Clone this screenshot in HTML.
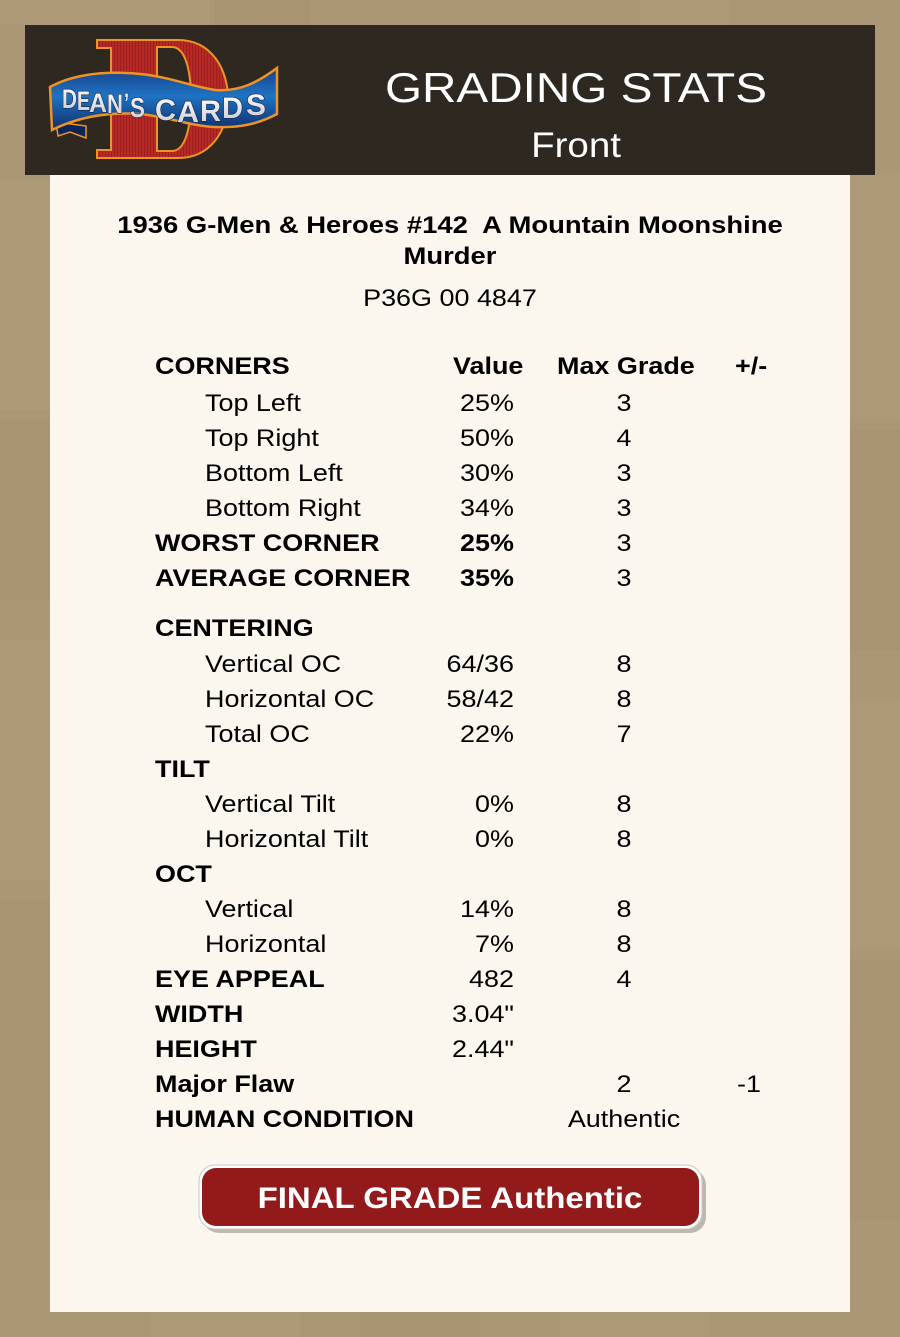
<!DOCTYPE html>
<html>
<head>
<meta charset="utf-8">
<style>
html,body{margin:0;padding:0;}
body{width:900px;height:1337px;overflow:hidden;background:#aa9775;}
svg{display:block;}
text{font-family:"Liberation Sans",Arial,sans-serif;}
.b{font-weight:bold;}
.t{font-size:24.5px;fill:#000;}
</style>
</head>
<body>
<svg width="900" height="1337" viewBox="0 0 900 1337" xmlns="http://www.w3.org/2000/svg">
  <defs>
    <pattern id="stripes" width="3" height="10" patternUnits="userSpaceOnUse">
      <rect width="3" height="10" fill="#b52a27"/>
      <rect width="1" height="10" fill="#9c1f1e"/>
    </pattern>
    <linearGradient id="blue" x1="0" y1="0" x2="0" y2="1">
      <stop offset="0" stop-color="#173f86"/>
      <stop offset="0.45" stop-color="#1f73c4"/>
      <stop offset="1" stop-color="#0f2f6e"/>
    </linearGradient>
    <linearGradient id="txt" x1="0" y1="0" x2="0" y2="1">
      <stop offset="0" stop-color="#ffffff"/>
      <stop offset="1" stop-color="#c9c9cf"/>
    </linearGradient>
  </defs>

  <!-- background texture -->
  <rect x="0" y="0" width="900" height="1337" fill="#aa9775"/>
  <g opacity="0.2">
    <rect x="0" y="0" width="210" height="25" fill="#b8a788"/>
    <rect x="215" y="0" width="95" height="25" fill="#9f8b69"/>
    <rect x="640" y="0" width="90" height="25" fill="#b5a484"/>
    <rect x="0" y="180" width="50" height="230" fill="#b9a98a"/>
    <rect x="0" y="420" width="50" height="180" fill="#9f8b6a"/>
    <rect x="0" y="640" width="50" height="240" fill="#b6a585"/>
    <rect x="0" y="900" width="50" height="300" fill="#a08c6b"/>
    <rect x="850" y="170" width="50" height="250" fill="#b6a586"/>
    <rect x="850" y="430" width="50" height="220" fill="#a18d6c"/>
    <rect x="850" y="700" width="50" height="250" fill="#b5a383"/>
    <rect x="850" y="960" width="50" height="260" fill="#a08c6b"/>
    <rect x="150" y="1312" width="150" height="25" fill="#b7a687"/>
    <rect x="360" y="1312" width="120" height="25" fill="#a08c6b"/>
    <rect x="560" y="1312" width="150" height="25" fill="#b7a687"/>
  </g>

  <!-- header -->
  <rect x="25" y="25" width="850" height="150" fill="#2e2820"/>

  <!-- white panel -->
  <rect x="50" y="175" width="800" height="1137" fill="#fcf7ee"/>

  <!-- logo: D -->
  <path d="M97,40 H178 C212,40 228,70 228,99 C228,132 210,158 178,158 H97 V150 H111 V48 H97 Z M157,47 V151 H172 C186,151 191,125 191,99 C191,73 186,47 172,47 Z"
        fill="url(#stripes)" fill-rule="evenodd" stroke="#ee9425" stroke-width="2"/>
  <!-- banner tail -->
  <path d="M56,122 L86,126 L86,138 L70,132 L58,136 Z" fill="#0c2559" stroke="#ee9425" stroke-width="1.5"/>
  <!-- banner -->
  <path d="M50,87 C70,76 100,70 140,74 C170,77 190,86 215,90 C240,92 258,82 277,68 L277,114 C258,124 240,128 215,127 C190,126 165,116 140,114 C110,112 80,116 52,130 Z"
        fill="url(#blue)" stroke="#ee9425" stroke-width="2.5"/>
  <g font-weight="bold" fill="url(#txt)" stroke="#16264a" stroke-width="1.2" paint-order="stroke" lengthAdjust="spacingAndGlyphs">
    <text font-size="27" x="62" y="108" textLength="15" lengthAdjust="spacingAndGlyphs">D</text>
    <text font-size="27" x="77" y="110" textLength="13" lengthAdjust="spacingAndGlyphs">E</text>
    <text font-size="27" x="89" y="112" textLength="18" lengthAdjust="spacingAndGlyphs">A</text>
    <text font-size="27" x="107" y="113" textLength="16" lengthAdjust="spacingAndGlyphs">N</text>
    <text font-size="27" x="124" y="112" textLength="5" lengthAdjust="spacingAndGlyphs">’</text>
    <text font-size="28" x="130" y="117" textLength="15" lengthAdjust="spacingAndGlyphs">S</text>
    <text font-size="30" x="155" y="120" textLength="21" lengthAdjust="spacingAndGlyphs">C</text>
    <text font-size="30" x="177" y="122" textLength="22" lengthAdjust="spacingAndGlyphs">A</text>
    <text font-size="30" x="200" y="121" textLength="21" lengthAdjust="spacingAndGlyphs">R</text>
    <text font-size="30" x="222" y="118" textLength="21" lengthAdjust="spacingAndGlyphs">D</text>
    <text font-size="30" x="246" y="115" textLength="20" lengthAdjust="spacingAndGlyphs">S</text>
  </g>

  <!-- header text -->
  <text transform="translate(576,102) scale(1.135,1)" text-anchor="middle" font-size="42" fill="#ffffff">GRADING STATS</text>
  <text transform="translate(576,157) scale(1.1,1)" text-anchor="middle" font-size="35" fill="#ffffff">Front</text>

  <!-- title -->
  <text class="t b" transform="translate(450,233) scale(1.12,1)" text-anchor="middle">1936 G-Men &amp; Heroes #142&#160; A Mountain Moonshine</text>
  <text class="t b" transform="translate(450,264) scale(1.12,1)" text-anchor="middle">Murder</text>
  <text class="t" transform="translate(450,306) scale(1.1,1)" text-anchor="middle">P36G 00 4847</text>

  <!-- column headers -->
  <text class="t b" transform="translate(155,374) scale(1.1,1)">CORNERS</text>
  <text class="t b" transform="translate(453,374) scale(1.1,1)">Value</text>
  <text class="t b" transform="translate(557,374) scale(1.1,1)">Max Grade</text>
  <text class="t b" transform="translate(735,374) scale(1.1,1)">+/-</text>

  <!-- labels -->
  <g>
    <text class="t" transform="translate(205,411) scale(1.1,1)">Top Left</text>
    <text class="t" transform="translate(205,446) scale(1.1,1)">Top Right</text>
    <text class="t" transform="translate(205,481) scale(1.1,1)">Bottom Left</text>
    <text class="t" transform="translate(205,516) scale(1.1,1)">Bottom Right</text>
    <text class="t b" transform="translate(155,551) scale(1.1,1)">WORST CORNER</text>
    <text class="t b" transform="translate(155,586) scale(1.1,1)">AVERAGE CORNER</text>
    <text class="t b" transform="translate(155,636) scale(1.1,1)">CENTERING</text>
    <text class="t" transform="translate(205,672) scale(1.1,1)">Vertical OC</text>
    <text class="t" transform="translate(205,707) scale(1.1,1)">Horizontal OC</text>
    <text class="t" transform="translate(205,742) scale(1.1,1)">Total OC</text>
    <text class="t b" transform="translate(155,777) scale(1.1,1)">TILT</text>
    <text class="t" transform="translate(205,812) scale(1.1,1)">Vertical Tilt</text>
    <text class="t" transform="translate(205,847) scale(1.1,1)">Horizontal Tilt</text>
    <text class="t b" transform="translate(155,882) scale(1.1,1)">OCT</text>
    <text class="t" transform="translate(205,917) scale(1.1,1)">Vertical</text>
    <text class="t" transform="translate(205,952) scale(1.1,1)">Horizontal</text>
    <text class="t b" transform="translate(155,987) scale(1.1,1)">EYE APPEAL</text>
    <text class="t b" transform="translate(155,1022) scale(1.1,1)">WIDTH</text>
    <text class="t b" transform="translate(155,1057) scale(1.1,1)">HEIGHT</text>
    <text class="t b" transform="translate(155,1092) scale(1.1,1)">Major Flaw</text>
    <text class="t b" transform="translate(155,1127) scale(1.1,1)">HUMAN CONDITION</text>
  </g>

  <!-- values (right aligned at 514) -->
  <g text-anchor="end">
    <text class="t" transform="translate(514,411) scale(1.1,1)">25%</text>
    <text class="t" transform="translate(514,446) scale(1.1,1)">50%</text>
    <text class="t" transform="translate(514,481) scale(1.1,1)">30%</text>
    <text class="t" transform="translate(514,516) scale(1.1,1)">34%</text>
    <text class="t b" transform="translate(514,551) scale(1.1,1)">25%</text>
    <text class="t b" transform="translate(514,586) scale(1.1,1)">35%</text>
    <text class="t" transform="translate(514,672) scale(1.1,1)">64/36</text>
    <text class="t" transform="translate(514,707) scale(1.1,1)">58/42</text>
    <text class="t" transform="translate(514,742) scale(1.1,1)">22%</text>
    <text class="t" transform="translate(514,812) scale(1.1,1)">0%</text>
    <text class="t" transform="translate(514,847) scale(1.1,1)">0%</text>
    <text class="t" transform="translate(514,917) scale(1.1,1)">14%</text>
    <text class="t" transform="translate(514,952) scale(1.1,1)">7%</text>
    <text class="t" transform="translate(514,987) scale(1.1,1)">482</text>
    <text class="t" transform="translate(514,1022) scale(1.1,1)">3.04"</text>
    <text class="t" transform="translate(514,1057) scale(1.1,1)">2.44"</text>
  </g>

  <!-- max grade (centered at 624) -->
  <g text-anchor="middle">
    <text class="t" transform="translate(624,411) scale(1.1,1)">3</text>
    <text class="t" transform="translate(624,446) scale(1.1,1)">4</text>
    <text class="t" transform="translate(624,481) scale(1.1,1)">3</text>
    <text class="t" transform="translate(624,516) scale(1.1,1)">3</text>
    <text class="t" transform="translate(624,551) scale(1.1,1)">3</text>
    <text class="t" transform="translate(624,586) scale(1.1,1)">3</text>
    <text class="t" transform="translate(624,672) scale(1.1,1)">8</text>
    <text class="t" transform="translate(624,707) scale(1.1,1)">8</text>
    <text class="t" transform="translate(624,742) scale(1.1,1)">7</text>
    <text class="t" transform="translate(624,812) scale(1.1,1)">8</text>
    <text class="t" transform="translate(624,847) scale(1.1,1)">8</text>
    <text class="t" transform="translate(624,917) scale(1.1,1)">8</text>
    <text class="t" transform="translate(624,952) scale(1.1,1)">8</text>
    <text class="t" transform="translate(624,987) scale(1.1,1)">4</text>
    <text class="t" transform="translate(624,1092) scale(1.1,1)">2</text>
    <text class="t" transform="translate(624,1127) scale(1.1,1)">Authentic</text>
    <text class="t" transform="translate(749,1092) scale(1.1,1)">-1</text>
  </g>

  <!-- final grade button -->
  <rect x="203" y="1169" width="503" height="64" rx="16" ry="16" fill="#bdb8b0"/>
  <rect x="199" y="1165" width="503" height="64" rx="16" ry="16" fill="#ffffff" stroke="#c9c6c0" stroke-width="1"/>
  <rect x="202" y="1168" width="497" height="58" rx="14" ry="14" fill="#931a1b"/>
  <text transform="translate(450,1208) scale(1.1,1)" text-anchor="middle" font-size="30" font-weight="bold" fill="#ffffff">FINAL GRADE Authentic</text>
</svg>
</body>
</html>
